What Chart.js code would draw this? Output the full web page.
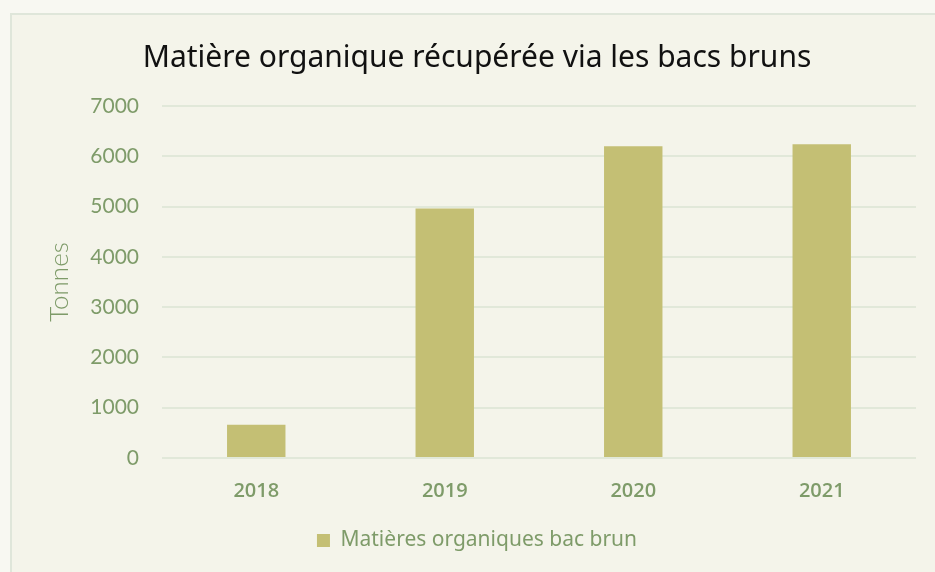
<!DOCTYPE html>
<html>
<head>
<meta charset="utf-8">
<script src="https://cdn.jsdelivr.net/npm/chart.js@4"></script>
<style>
  html, body { margin: 0; padding: 0; background: #f8f8f2; overflow: hidden; }
  #panel {
    position: absolute; left: 10px; top: 13px;
    width: 930px; height: 570px;
    background: #f4f4ea; border: 2px solid #dfe6da;
  }
  #wrap { position: absolute; left: 0; top: 0; width: 923px; height: 557px; }
</style>
</head>
<body>
<div id="panel"><div id="wrap"><canvas id="chart"></canvas></div></div>
<script>
const years = ['2018', '2019', '2020', '2021'];
const tonnes = [660, 4960, 6200, 6240];
const seriesName = 'Matières organiques bac brun';
const chartTitle = 'Matière organique récupérée via les bacs bruns';

const green = '#7e9b69';
const barColor = '#c4bf74';

new Chart('chart', {
    type: 'bar',
    data: {
        labels: years,
        datasets: [{
            label: seriesName,
            data: tonnes,
            backgroundColor: barColor,
            borderWidth: 0,
            barPercentage: 0.31,
            categoryPercentage: 1
        }]
    },
    options: {
        responsive: true,
        maintainAspectRatio: false,
        animation: false,
        layout: { padding: { left: 26, right: 19, top: 16, bottom: 11 } },
        plugins: {
            tooltip: { enabled: false },
            title: {
                display: true,
                text: chartTitle,
                color: '#111',
                font: { family: 'Noto Sans', size: 30, weight: 'normal' },
                padding: { top: 9, bottom: 30 }
            },
            legend: {
                position: 'bottom',
                labels: {
                    boxWidth: 13, boxHeight: 13,
                    color: green,
                    padding: 14,
                    font: { family: 'Noto Sans', size: 21 }
                }
            }
        },
        scales: {
            x: {
                grid: { display: false },
                border: { display: false },
                ticks: { color: green, padding: 13, font: { family: 'Open Sans', size: 20, weight: 600 } }
            },
            y: {
                min: 0, max: 7000,
                afterFit: s => { s.width = 124; },
                ticks: {
                    stepSize: 1000, color: green, padding: 23,
                    font: { family: 'Lato', size: 21, weight: 400 },
                    callback: v => String(v)
                },
                grid: { color: '#e1e8d9', lineWidth: 2, drawTicks: false },
                border: { display: false },
                title: { display: true, text: 'Tonnes', color: green, padding: 6, font: { family: 'Lato', size: 26, weight: 300 } }
            }
        }
    }
});
</script>
</body>
</html>
